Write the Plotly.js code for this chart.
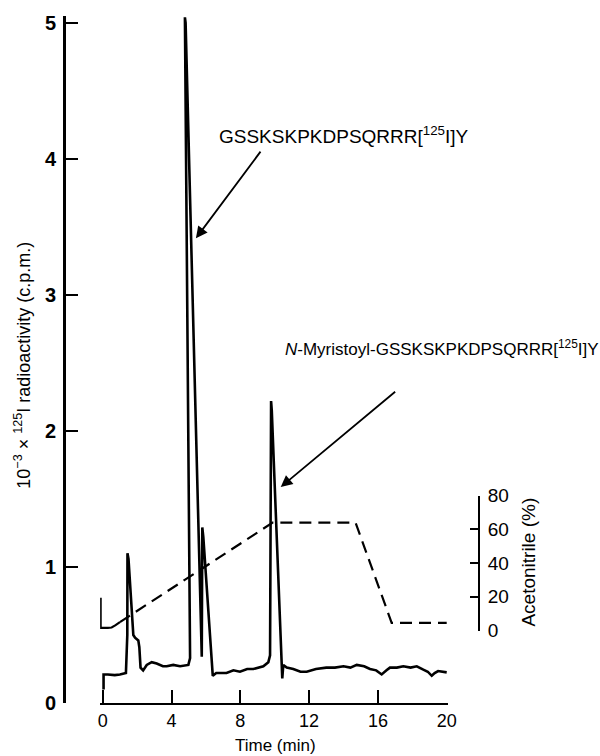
<!DOCTYPE html>
<html><head><meta charset="utf-8">
<script src="https://cdn.plot.ly/plotly-3.0.1.min.js"></script>
<style>body{margin:0;background:#fff}#chart{width:600px;height:756px}</style>
</head><body><div id="chart"></div>
<script>
// Radioactivity trace (10^-3 x 125I c.p.m.) vs time (min)
const timeMin = [0.05,0.05,0.3,0.7,1.0,1.35,1.43,1.44,1.5,1.69,1.78,1.88,2.07,2.13,2.2,2.35,2.56,2.85,3.14,3.5,3.72,4.1,4.5,4.98,5.08,
  4.78,4.82,5.76,5.79,5.85,6.4,6.6,7.2,7.6,7.98,8.4,8.76,9.34,9.63,9.73,
  9.79,9.83,10.44,10.5,10.7,11.08,11.5,11.86,12.4,13.0,13.5,14.0,14.4,14.77,15.2,15.54,15.9,16.22,16.5,16.7,17.1,17.48,17.9,18.26,18.64,18.9,19.13,19.3,19.5,19.8,20];
const radioactivity = [0.10,0.21,0.21,0.205,0.21,0.22,0.5,1.10,1.06,0.69,0.50,0.48,0.46,0.41,0.26,0.24,0.28,0.30,0.29,0.27,0.27,0.28,0.27,0.28,0.33,
  5.04,5.0,0.34,1.29,1.22,0.20,0.22,0.22,0.24,0.23,0.25,0.25,0.27,0.30,0.35,
  2.22,2.15,0.18,0.28,0.26,0.25,0.23,0.23,0.25,0.26,0.26,0.27,0.26,0.28,0.27,0.25,0.24,0.21,0.24,0.26,0.26,0.27,0.26,0.27,0.245,0.23,0.20,0.22,0.235,0.23,0.225];
// Acetonitrile (%) gradient
const acnStartTime = [-0.12,-0.12,0.3,0.52,0.75,1.0];
const acnStartPct  = [19.4,1.6,1.6,1.8,3.2,5.0];
const acnTime = [1.0,9.88,14.7,16.8,20];
const acnPct  = [5.0,64,64,4.6,4.6];
// Axis ticks
const xTicks = [0,4,8,12,16,20];
const yTicks = [0,1,2,3,4,5];
const acnTicks = [0,20,40,60,80];
// Labels
const peptideLabel = "GSSKSKPKDPSQRRR[<sup>125</sup>I]Y";
const myristoylLabel = "<i>N</i>-Myristoyl-GSSKSKPKDPSQRRR[<sup>125</sup>I]Y";

const F = "Liberation Sans, Arial, Helvetica, sans-serif";

const traces = [
  {x: timeMin, y: radioactivity, type:'scatter', mode:'lines', xaxis:'x', yaxis:'y',
   line:{color:'#000', width:2.6}},
  {x: acnStartTime, y: acnStartPct, type:'scatter', mode:'lines', xaxis:'x', yaxis:'y2',
   line:{color:'#000', width:2.2}},
  {x: acnTime, y: acnPct, type:'scatter', mode:'lines', xaxis:'x', yaxis:'y2',
   line:{color:'#000', width:2.2, dash:'12px,7px'}}
];

const L = 64, R = 121, T = 16, B = 52.5;
const W = 600 - L - R, H = 756 - T - B;
const px = v => (v - L) / W;
const py = v => (756 - B - v) / H;

const layout = {
  width:600, height:756, showlegend:false,
  paper_bgcolor:'#fff', plot_bgcolor:'rgba(0,0,0,0)',
  margin:{l:L, r:R, t:T, b:B, pad:0},
  font:{family:F, color:'#000'},
  xaxis:{range:[-0.15,20.05], domain:[px(102.7-0.15*17.2), px(446.7+0.05*17.2)],
    anchor:'y', showgrid:false, zeroline:false, showline:true, linecolor:'#000', linewidth:2,
    ticks:'inside', ticklen:13, tickwidth:2, tickcolor:'#000',
    tickvals:xTicks, ticktext:xTicks.map(String), ticklabelstandoff:0,
    tickfont:{family:F, size:18, color:'#000'}},
  yaxis:{range:[0,5.05], domain:[0,1], anchor:'free', position:0, side:'left',
    showgrid:false, zeroline:false, showline:true, linecolor:'#000', linewidth:2.5,
    ticks:'inside', ticklen:12, tickwidth:2, tickcolor:'#000',
    tickvals:yTicks, ticktext:yTicks.map(String), ticklabelstandoff:3,
    tickfont:{family:F, size:20, color:'#000', weight:'bold'}},
  yaxis2:{range:[0,80], domain:[py(631), py(496)], anchor:'free', position:1, side:'right',
    showgrid:false, zeroline:false, showline:true, linecolor:'#000', linewidth:2,
    ticks:'inside', ticklen:8, tickwidth:2, tickcolor:'#000',
    tickvals:acnTicks, ticktext:acnTicks.map(String), ticklabelstandoff:4,
    tickfont:{family:F, size:19, color:'#000'}},
  annotations:[
    {xref:'paper', yref:'paper', x:px(23), y:py(366), text:"10<sup>−3</sup> × <sup>125</sup>I radioactivity (c.p.m.)",
     textangle:-90, showarrow:false, xanchor:'center', yanchor:'middle', font:{family:F, size:18, color:'#000'}},
    {xref:'paper', yref:'paper', x:px(275), y:py(746), text:"Time (min)",
     showarrow:false, xanchor:'center', yanchor:'middle', font:{family:F, size:17, color:'#000'}},
    {xref:'paper', yref:'paper', x:px(529), y:py(563), text:"Acetonitrile (%)",
     textangle:-90, showarrow:false, xanchor:'center', yanchor:'middle', font:{family:F, size:19, color:'#000'}},
    {xref:'x', yref:'y', x:6.63, y:4.174, text:peptideLabel, showarrow:false,
     xanchor:'left', yanchor:'middle', font:{family:F, size:19, color:'#000'}},
    {xref:'x', yref:'y', x:10.48, y:2.61, text:myristoylLabel, showarrow:false,
     xanchor:'left', yanchor:'middle', font:{family:F, size:17, color:'#000'}},
    {xref:'x', yref:'y', axref:'x', ayref:'y', x:5.42, y:3.416, ax:9.24, ay:4.064, text:'',
     showarrow:true, arrowhead:2, arrowsize:1.3, arrowwidth:1.8, arrowcolor:'#000'},
    {xref:'x', yref:'y', axref:'x', ayref:'y', x:10.35, y:1.587, ax:17.09, ay:2.297, text:'',
     showarrow:true, arrowhead:2, arrowsize:1.3, arrowwidth:1.8, arrowcolor:'#000'}
  ]
};

Plotly.newPlot('chart', traces, layout, {staticPlot:true, displayModeBar:false});
</script>
</body></html>
